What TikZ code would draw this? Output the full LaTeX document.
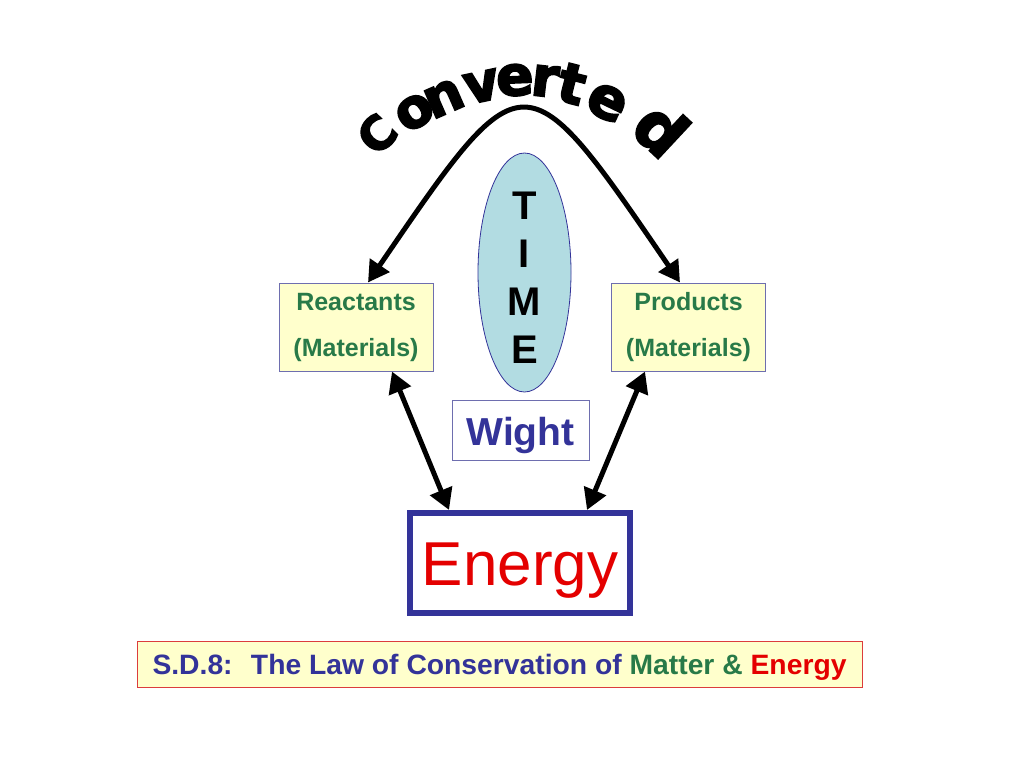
\documentclass[tikz,border=0pt]{standalone}
\usepackage{fontspec}
\usepackage{graphicx}
\setmainfont{Liberation Sans}
\newfontfamily\convfont{DejaVu Sans Bold}[FakeBold=3.5]
\usetikzlibrary{arrows.meta,calc,shapes.geometric}
\definecolor{txtgreen}{RGB}{40,122,72}
\definecolor{navy}{RGB}{51,51,153}
\definecolor{ered}{RGB}{228,0,0}
\definecolor{paleyellow}{RGB}{255,255,204}
\definecolor{boxedge}{RGB}{110,110,175}
\definecolor{timeblue}{RGB}{178,220,226}
\definecolor{banneredge}{RGB}{220,60,60}
\begin{document}
\begin{tikzpicture}[x=1pt,y=-1pt,
  matbox/.style={draw=boxedge, line width=1pt, fill=paleyellow, minimum width=154pt,
    minimum height=88pt, inner sep=0pt, align=center, text=txtgreen,
    font=\fontsize{25}{46}\selectfont\bfseries},
  bigarrow/.style={line width=5pt,
    {Triangle[length=21pt,width=23pt]}-{Triangle[length=21pt,width=23pt]}},
  conv/.style={inner sep=0pt},
]
\useasboundingbox[fill=white] (0,0) rectangle (1024,768);

% boxes
\node[matbox] (r) at (356,327) {Reactants\\(Materials)};
\node[matbox] (p) at (688.5,327) {Products\\(Materials)};
\node[ellipse, draw=navy, line width=0.8pt, fill=timeblue, minimum width=93pt,
  minimum height=239pt, inner sep=0pt] (time) at (524.5,272.5) {};
\node[font=\fontsize{40}{48}\selectfont\bfseries, align=center, inner sep=0pt]
  (timetext) at (524.5,277.5) {T\\I\\M\\E};
\node[draw=boxedge, line width=1pt, minimum width=137pt, minimum height=60pt,
  inner sep=0pt, text=navy, font=\fontsize{39}{39}\selectfont\bfseries,
  text height=31.6pt, text depth=0pt] (w) at (520.5,430) {Wight};
\node[draw=navy, line width=6pt, minimum width=220pt, minimum height=100pt,
  inner sep=0pt, text=ered, font=\fontsize{62}{62}\selectfont,
  text height=44.4pt, text depth=0pt] (en) at (520,563) {Energy};
\node[draw=banneredge, line width=1pt, fill=paleyellow, minimum width=725pt,
  minimum height=46pt, inner sep=0pt, font=\fontsize{28}{28}\selectfont\bfseries,
  text height=20pt, text depth=0pt] (law) at (499.5,664)
  {\resizebox{694pt}{\height}{\textcolor{navy}{S.D.8:~ The Law of Conservation of}
   \textcolor{txtgreen}{Matter \&} \textcolor{ered}{Energy}}};

% arched word
\coordinate (arcc) at (522.5,278);
\foreach \ch/\ang/\rad/\fs [count=\i] in {C/135.3/188/46, o/123.0/183/54,
    n/113.6/181/54, v/102.0/181/54, e/92.2/183/55, r/83.5/183/55,
    t/75.7/181/55, e/64.3/179/57, d/47.0/180/64}
  \node[conv, font=\convfont\fontsize{\fs}{\fs}\selectfont, rotate=\ang-90,
    anchor=base] (cv\i) at ($(arcc)+(-\ang:\rad)$) {\ch};

% connectors
\draw[bigarrow] ([xshift=12pt]r.north) .. controls (524,54) .. ([xshift=-8.5pt]p.north);
\draw[bigarrow] ([xshift=36pt]r.south) -- ([xshift=-71pt]en.north);
\draw[bigarrow] ([xshift=-43.5pt]p.south) -- ([xshift=67pt]en.north);
\end{tikzpicture}
\end{document}
